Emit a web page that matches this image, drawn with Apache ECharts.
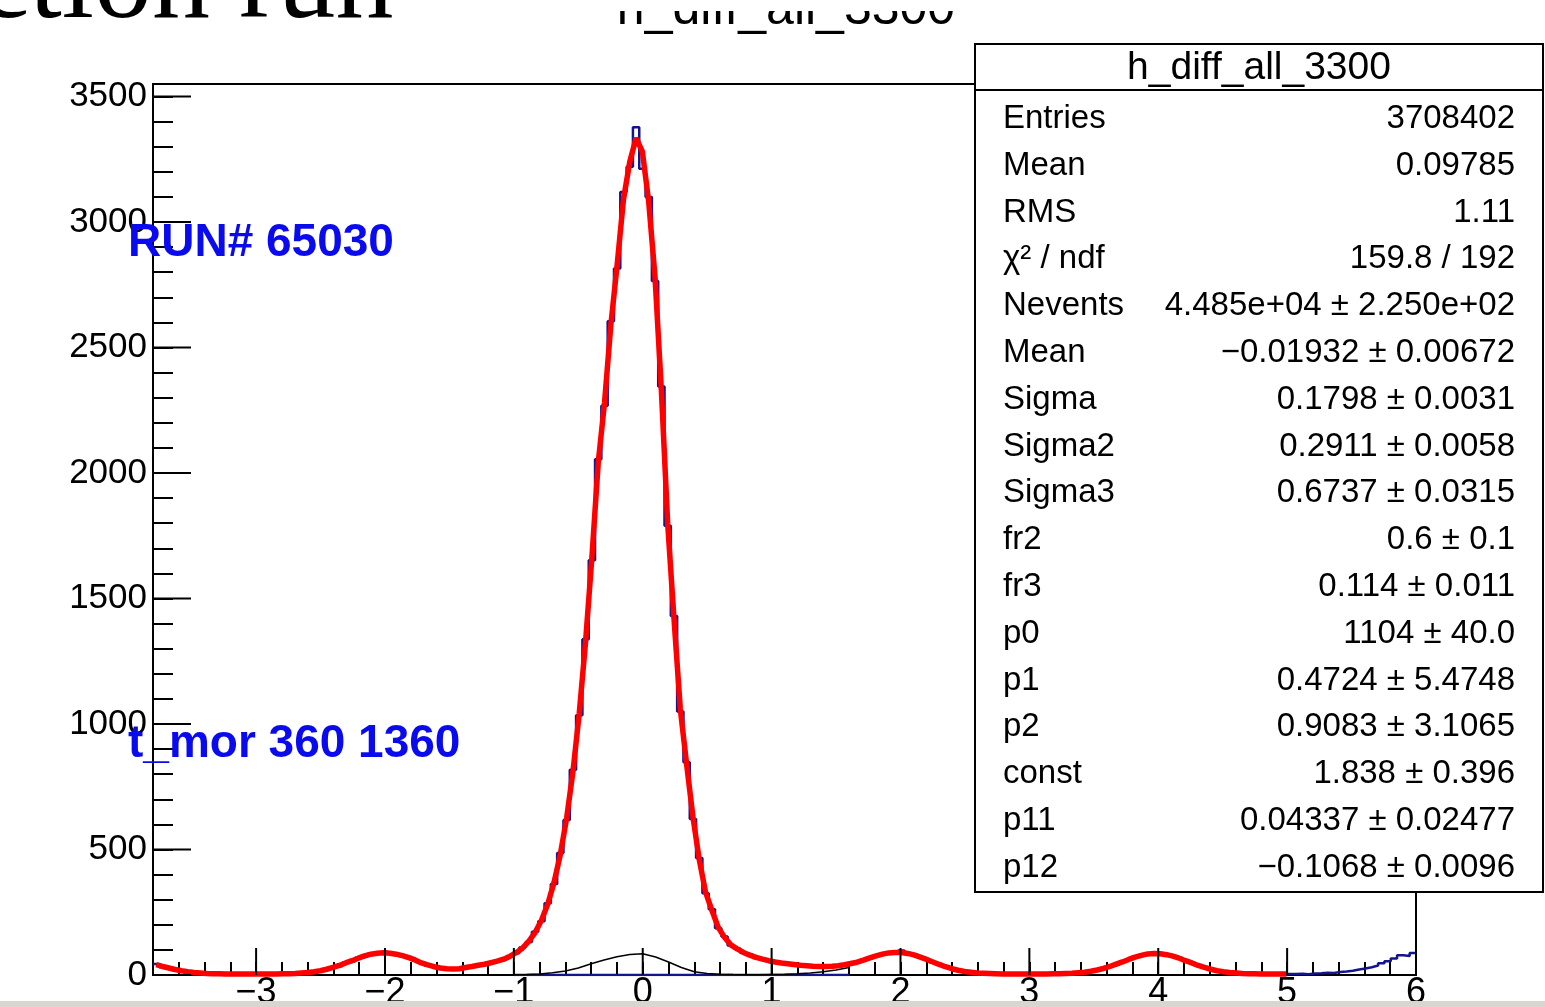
<!DOCTYPE html>
<html>
<head>
<meta charset="utf-8">
<script src="https://cdn.jsdelivr.net/npm/echarts@6/dist/echarts.min.js"></script>
<style>
html,body{margin:0;padding:0;background:#fff;overflow:hidden;}
#main{width:1545px;height:1007px;}
</style>
</head>
<body>
<div id="main"></div>
<script>
// histogram binning (200 bins)
var xMin = -3.8
var xMax = 6
var binWidth = 0.049

var histCounts = [
    44,31,29,20,18,12,11,7,6,5,4,
    4,3,5,4,3,4,5,4,
    4,6,5,7,
    7,11,12,18,22,31,36,50,55,69,74,85,86,93,
    86,84,75,71,58,49,38,34,27,26,23,26,29,33,40,42,50,
    56,61,76,87,110,131,172,214,286,363,486,618,818,1035,1338,1652,2055,2268,
    2605,2815,3120,3220,3378,3212,3100,2765,2345,1790,1430,1050,848,622,466,326,262,186,
    153,118,106,88,81,68,64,56,53,47,46,41,40,36,36,33,35,34,
    38,40,47,50,61,67,78,82,90,89,98,85,81,70,63,50,43,32,26,18,15,10,9,6,6,4,5,
    3,5,4,4,3,5,4,
    5,6,5,8,9,12,14,21,25,35,42,53,61,73,77,85,
    84,80,82,74,68,56,49,37,31,22,18,12,11,7,6,5,4,4,3,4,3,4,
    4,5,3,6,7,9,8,12,14,17,22,26,31,38,47,55,66,79,76,88
]

// fit curve, one value per bin centre, fit range ends at 5
var fitValues = [
    41,34,28,22,17,13,10,8,6,5,5,
    4,4,4,4,4,4,4,4,
    4,5,5,6,
    8,10,13,17,23,30,38,48,57,67,76,83,87,89,
    87,83,77,69,60,48,40,33,28,25,24,25,30,34,39,43,49,
    55,63,74,89,107,134,169,217,282,368,480,625,810,1043,1328,1664,2040,2280,
    2590,2830,3090,3240,3335,3280,3080,2780,2330,1800,1420,1060,840,630,460,330,258,190,
    150,120,104,90,79,70,63,57,52,48,45,42,39,37,35,34,34,35,
    37,41,46,51,59,68,76,83,88,90,90,86,80,71,62,52,42,33,25,19,14,11,8,7,6,5,4,
    4,4,4,4,4,4,4,
    5,5,6,7,9,11,15,20,26,34,43,52,62,71,78,84,
    86,85,81,75,67,57,48,38,30,23,17,13,10,8,6,5,5,4,4,4,4,4
]

// black component curve
var compX = [-1.0,-0.9,-0.8,-0.7,-0.6,-0.5,-0.4,-0.3,-0.2,-0.1,0.0,0.1,0.2,0.3,0.4,0.5,0.6,0.7,0.8,0.9,1.0,1.1,1.2,1.3,1.4,1.5,1.6]
var compY = [1,2,4,9,16,28,45,60,73,82,85,72,52,30,13,6,3,1.5,1,1,2,3,5,8,13,20,30]

// blue baseline component
var zeroX = [-1.0, 1.6]
var zeroY = [0, 0]

var majorTicksX = [-3,-2,-1,0,1,2,3,4,5,6]
var majorTicksY = [0,500,1000,1500,2000,2500,3000,3500]

var statTitle = 'h_diff_all_3300'
var statNames = ['Entries','Mean','RMS','\u03c7\u00b2 / ndf','Nevents','Mean','Sigma','Sigma2','Sigma3','fr2','fr3','p0','p1','p2','const','p11','p12']
var statValues = ['3708402','0.09785','1.11','159.8 / 192',
    '4.485e+04 \u00b1 2.250e+02','\u22120.01932 \u00b1 0.00672','0.1798 \u00b1 0.0031',
    '0.2911 \u00b1 0.0058','0.6737 \u00b1 0.0315','0.6 \u00b1 0.1','0.114 \u00b1 0.011',
    '1104 \u00b1 40.0','0.4724 \u00b1 5.4748','0.9083 \u00b1 3.1065','1.838 \u00b1 0.396',
    '0.04337 \u00b1 0.02477','\u22120.1068 \u00b1 0.0096']

var FONT = '"Liberation Sans", Arial, Helvetica, sans-serif'

function histPoints(){
    var pts = []
    for (var i = 0; i < histCounts.length; i++) {
        pts.push([xMin + i*binWidth, histCounts[i]])
    }
    pts.push([xMax, histCounts[histCounts.length-1]])
    return pts
}

function fitPoints(){
    var pts = []
    for (var i = 0; i < fitValues.length; i++) {
        pts.push([xMin + (i+0.5)*binWidth, fitValues[i]])
    }
    return pts
}

function zip(xs, ys){
    return xs.map(function(x, i){ return [x, ys[i]] })
}

function fmtX(v){
    var r = Math.round(v)
    if (Math.abs(v - r) > 1e-6) return ''
    return r < 0 ? '\u2212' + (-r) : '' + r
}

function statsGraphics(){
    var g = []
    g.push({type:'rect', z:100, shape:{x:975, y:44, width:568, height:848},
        style:{fill:'#fff', stroke:'#000', lineWidth:2}})
    g.push({type:'line', z:101, shape:{x1:975, y1:90, x2:1543, y2:90},
        style:{stroke:'#000', lineWidth:2}})
    g.push({type:'text', z:101, x:1259, y:68,
        style:{text:statTitle, font:'39px ' + FONT, fill:'#000', align:'center', verticalAlign:'middle'}})
    for (var i = 0; i < statNames.length; i++) {
        var y = 119 + i*46.8
        g.push({type:'text', z:101, x:1003, y:y,
            style:{text:statNames[i], font:'33px ' + FONT, fill:'#000', align:'left', verticalAlign:'middle'}})
        g.push({type:'text', z:101, x:1515, y:y,
            style:{text:statValues[i], font:'33px ' + FONT, fill:'#000', align:'right', verticalAlign:'middle'}})
    }
    return g
}

var myChart = echarts.init(document.getElementById('main'), null, {renderer:'canvas'})

var option = {
    animation: false,
    backgroundColor: '#fff',
    grid: {left:153, top:84, width:1263, height:891, outerBoundsMode:'none', containLabel:false,
        show:true, borderColor:'#000', borderWidth:2, backgroundColor:'transparent'},
    xAxis: {
        type:'value', min:xMin, max:xMax, interval:0.2,
        axisLine:{onZero:false, lineStyle:{color:'#000', width:2}},
        axisTick:{inside:true, length:13, lineStyle:{color:'#000', width:2}},
        axisLabel:{formatter:fmtX, color:'#000', fontSize:36, fontFamily:FONT, margin:0},
        splitLine:{show:false}
    },
    yAxis: {
        type:'value', min:0, max:3550, interval:100,
        axisLine:{show:true, onZero:false, lineStyle:{color:'#000', width:2}},
        axisTick:{show:true, inside:true, length:20, lineStyle:{color:'#000', width:2}},
        axisLabel:{formatter:function(v){ return (v % 500 === 0) ? '' + v : '' },
            color:'#000', fontSize:35, fontFamily:FONT, margin:6},
        splitLine:{show:false}
    },
    series: [
        {type:'line', name:'hist', data:histPoints(), step:'end', symbol:'none',
            lineStyle:{color:'#14148c', width:2.5}, z:2},
        {type:'line', name:'zero', data:zip(zeroX, zeroY), symbol:'none',
            lineStyle:{color:'#14148c', width:2.5}, z:3},
        {type:'line', name:'comp', data:zip(compX, compY), symbol:'none',
            lineStyle:{color:'#000', width:1.5}, z:3},
        {type:'line', name:'fit', data:fitPoints(), symbol:'none',
            lineStyle:{color:'#ff0000', width:5.5}, z:4},
        // major ticks on x
        {type:'custom', data:majorTicksX.map(function(v){ return [v] }), z:5,
            renderItem:function(params, api){
                var p = api.coord([api.value(0), 0])
                return {type:'line', shape:{x1:p[0], y1:p[1], x2:p[0], y2:p[1]-27},
                    style:{stroke:'#000', lineWidth:2}}
            }},
        // major ticks on y
        {type:'custom', data:majorTicksY.map(function(v){ return [xMin, v] }), z:5,
            renderItem:function(params, api){
                var p = api.coord([xMin, api.value(1)])
                return {type:'line', shape:{x1:p[0], y1:p[1], x2:p[0]+38, y2:p[1]},
                    style:{stroke:'#000', lineWidth:2}}
            }}
    ],
    graphic: [
        {type:'text', z:100, x:786, y:10,
            style:{text:statTitle, font:'50px ' + FONT, fill:'#000', align:'center', verticalAlign:'middle'}},
        // the title is cut at the top in the original
        {type:'rect', z:100, shape:{x:420, y:0, width:560, height:11}, style:{fill:'#fff'}},
        {type:'text', z:101, x:-22, y:-13,
            style:{text:'ction run', font:'116px "Liberation Serif", "Times New Roman", serif', fill:'#000', align:'left', verticalAlign:'middle'}},
        {type:'text', z:100, x:128, y:243,
            style:{text:'RUN# 65030', font:'bold 46px ' + FONT, fill:'#0a0aee', align:'left', verticalAlign:'middle'}},
        {type:'text', z:100, x:128, y:744,
            style:{text:'t_mor 360 1360', font:'bold 46px ' + FONT, fill:'#0a0aee', align:'left', verticalAlign:'middle'}},
        {type:'rect', z:100, shape:{x:0, y:1001, width:1545, height:6}, style:{fill:'#d9d6d0'}}
    ].concat(statsGraphics())
}

myChart.setOption(option)
</script>
</body>
</html>
